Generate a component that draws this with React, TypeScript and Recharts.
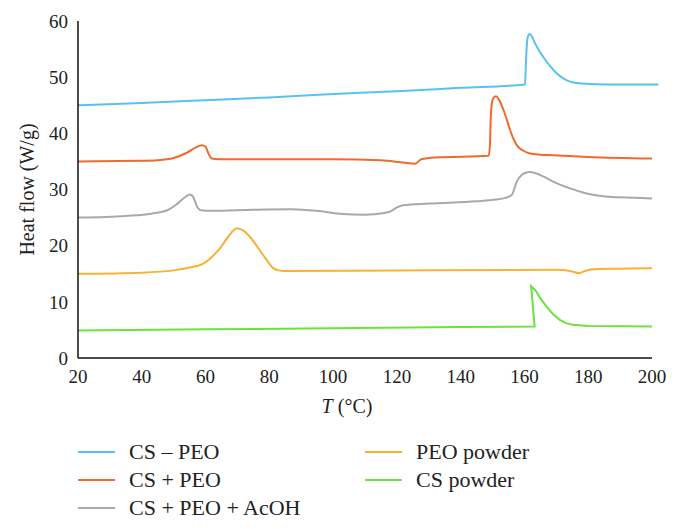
import React from "react";
import { LineChart, Line, XAxis, YAxis, Label, ReferenceLine } from "recharts";

// DSC curves: temperature (°C) and heat flow (W/g)
const csPeoT = [20, 40, 60, 80, 100, 120, 140, 160.2, 160.4, 160.8, 161.2, 161.7, 162.3, 163.2, 164.5, 165.9, 168, 170.1, 172.2, 174.3, 177, 180, 190, 202];
const csPeoHF = [45.0, 45.4, 45.9, 46.4, 47.0, 47.5, 48.1, 48.7, 51.5, 56.1, 57.4, 57.7, 57.3, 56.2, 54.8, 53.6, 52.0, 50.7, 49.8, 49.2, 48.9, 48.8, 48.7, 48.7];

const csPlusPeoT = [20, 40, 45, 50, 54, 57, 58.8, 60, 61, 62, 64, 100, 115, 122, 125.7, 127.7, 132, 148.8, 149.2, 149.4, 149.7, 150.3, 151.1, 152, 153.4, 154.5, 155.5, 156.5, 157.6, 158.6, 159.7, 161.7, 165, 169, 180, 200];
const csPlusPeoHF = [35.0, 35.1, 35.2, 35.6, 36.5, 37.5, 37.9, 37.6, 36.3, 35.5, 35.4, 35.4, 35.2, 34.8, 34.6, 35.4, 35.7, 36.0, 38.0, 42.0, 45.0, 46.3, 46.6, 46.0, 44.2, 42.4, 40.6, 39.1, 37.9, 37.3, 36.9, 36.4, 36.2, 36.1, 35.8, 35.5];

const acohT = [20, 35, 43, 48, 51, 53.5, 55.1, 56.3, 57.3, 58.5, 62, 75, 87, 95, 102, 110, 116, 118, 120, 122, 130, 145, 151, 154, 156, 157.6, 159.1, 160.5, 161.7, 163.5, 166, 169, 174.3, 179.5, 184.7, 190, 200];
const acohHF = [25.0, 25.3, 25.7, 26.3, 27.4, 28.6, 29.1, 28.5, 27.0, 26.3, 26.2, 26.4, 26.5, 26.2, 25.7, 25.5, 25.8, 26.1, 26.8, 27.2, 27.5, 27.9, 28.2, 28.5, 29.0, 31.4, 32.6, 33.0, 33.1, 32.9, 32.3, 31.4, 30.2, 29.3, 28.8, 28.6, 28.4];

const peoPowderT = [20, 40, 50, 55, 59.3, 62, 64.5, 67, 69.8, 71.5, 73.4, 76, 78.1, 80, 81.2, 83, 84.4, 120, 170, 174.3, 177.2, 179, 181.5, 190, 200];
const peoPowderHF = [15.0, 15.2, 15.6, 16.1, 16.8, 18.0, 19.5, 21.5, 23.1, 22.8, 21.9, 20.0, 18.3, 16.8, 16.0, 15.6, 15.5, 15.6, 15.7, 15.5, 15.1, 15.5, 15.8, 15.9, 16.0];

const csPowderT = [20, 60, 100, 140, 163.2, 162.1, 163.5, 165, 167, 169, 171.1, 173, 175.3, 180, 200];
const csPowderHF = [4.9, 5.1, 5.3, 5.5, 5.6, 12.8, 12.0, 10.6, 9.1, 7.8, 6.8, 6.2, 5.9, 5.7, 5.6];

const xTicks = [20, 40, 60, 80, 100, 120, 140, 160, 180, 200];
const yTicks = [0, 10, 20, 30, 40, 50, 60];

const zip = (t: number[], hf: number[]) => t.map((x, i) => ({ t: x, hf: hf[i] }));

const series = [
  { name: "CS \u2013 PEO", color: "#56c3ef", data: zip(csPeoT, csPeoHF), type: "monotone" },
  { name: "CS + PEO", color: "#f06a2e", data: zip(csPlusPeoT, csPlusPeoHF), type: "monotone" },
  { name: "CS + PEO + AcOH", color: "#a9a9a9", data: zip(acohT, acohHF), type: "monotone" },
  { name: "PEO powder", color: "#f8b134", data: zip(peoPowderT, peoPowderHF), type: "monotone" },
  { name: "CS powder", color: "#6ce23c", data: zip(csPowderT, csPowderHF), type: "linear" },
];

const font = "Liberation Serif";

// legend slots: first three on the left, last two on the right
const legendPos = [
  { left: 78, top: 438 },
  { left: 78, top: 466 },
  { left: 78, top: 494 },
  { left: 365, top: 438 },
  { left: 365, top: 466 },
];

export default function App() {
  return (
    <div style={{ position: "absolute", left: 0, top: 0, width: 680, height: 529, overflow: "hidden", background: "#fff", fontFamily: font }}>
      <LineChart width={680} height={529} margin={{ top: 21, right: 21, bottom: 141, left: 0 }} style={{ fontFamily: font }}>
        <XAxis
          dataKey="t"
          type="number"
          domain={[20, 202.2]}
          ticks={xTicks}
          axisLine={false}
          tickLine={false}
          tickSize={8}
          tickMargin={4}
          height={30}
          tick={{ fill: "#222", fontSize: 19, fontFamily: font }}
        >
          <Label
            content={({ viewBox }: any) => (
              <text x={viewBox.x + 269} y={viewBox.y + 55} textAnchor="middle" fill="#222" fontSize={20} fontFamily={font}>
                <tspan fontStyle="italic">T</tspan> (°C)
              </text>
            )}
          />
        </XAxis>
        <YAxis
          dataKey="hf"
          type="number"
          domain={[0, 60]}
          ticks={yTicks}
          width={78}
          axisLine={{ stroke: "#111", strokeWidth: 1.5 }}
          tickLine={false}
          tickSize={6}
          tickMargin={4}
          tick={{ fill: "#222", fontSize: 19, fontFamily: font }}
        >
          <Label
            content={({ viewBox }: any) => {
              const cx = viewBox.x + 27;
              const cy = viewBox.y + viewBox.height / 2;
              return (
                <text x={cx} y={cy} transform={`rotate(-90 ${cx} ${cy})`} textAnchor="middle" dominantBaseline="central" fill="#222" fontSize={20} fontFamily={font}>
                  Heat flow (W/g)
                </text>
              );
            }}
          />
        </YAxis>
        <ReferenceLine segment={[{ x: 20, y: 0 }, { x: 200, y: 0 }]} stroke="#111" strokeWidth={1.5} />
        {series.map((s) => (
          <Line
            key={s.name}
            data={s.data}
            dataKey="hf"
            type={s.type as any}
            stroke={s.color}
            strokeWidth={2}
            dot={false}
            isAnimationActive={false}
          />
        ))}
      </LineChart>
      {series.map((s, i) => (
        <div
          key={s.name}
          style={{ position: "absolute", left: legendPos[i].left, top: legendPos[i].top, height: 28, display: "flex", alignItems: "center", fontSize: 22, color: "#222", whiteSpace: "nowrap" }}
        >
          <span style={{ display: "inline-block", width: 37, height: 2, background: s.color, marginRight: 14 }} />
          <span>{s.name}</span>
        </div>
      ))}
    </div>
  );
}
